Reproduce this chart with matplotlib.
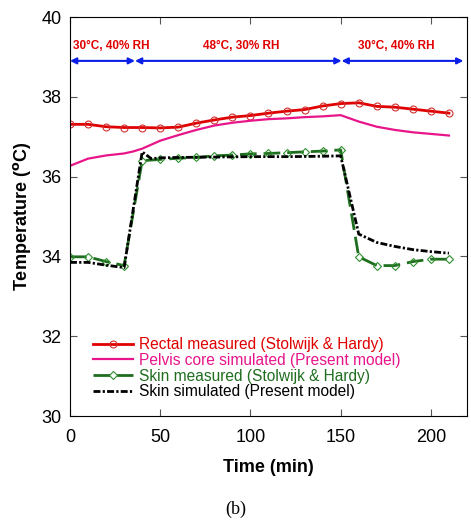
import numpy as np
import matplotlib.pyplot as plt

plt.rcParams['font.family'] = ['Liberation Sans', 'DejaVu Sans']

# measured points every 10 min
t_meas = [0, 10, 20, 30, 40, 50, 60, 70, 80, 90, 100, 110, 120, 130, 140, 150,
          160, 170, 180, 190, 200, 210]
rectal = [37.31, 37.31, 37.25, 37.23, 37.23, 37.22, 37.24, 37.34, 37.42, 37.49, 37.53,
          37.59, 37.64, 37.68, 37.77, 37.83, 37.85, 37.76, 37.74, 37.69, 37.64, 37.59]
skin_meas = [33.99, 33.99, 33.87, 33.77, 36.40, 36.43, 36.46, 36.48, 36.52, 36.54, 36.57,
             36.58, 36.60, 36.62, 36.64, 36.67, 33.99, 33.77, 33.77, 33.87, 33.93, 33.93]

# simulated curves
t_pelvis = [0, 10, 20, 30, 35, 40, 50, 60, 70, 80, 90, 100, 110, 120, 130, 140, 150,
            160, 170, 180, 190, 200, 210]
pelvis = [36.27, 36.45, 36.53, 36.58, 36.63, 36.70, 36.90, 37.04, 37.17, 37.28, 37.35,
          37.40, 37.44, 37.46, 37.49, 37.51, 37.54, 37.38, 37.25, 37.17, 37.11, 37.07, 37.03]
t_skin = [0, 10, 20, 30, 40, 45, 50, 60, 80, 100, 120, 140, 150, 160, 170, 180, 190, 200, 210]
skin_sim = [33.85, 33.85, 33.78, 33.72, 36.62, 36.45, 36.47, 36.48, 36.49, 36.50, 36.50,
            36.51, 36.52, 34.56, 34.35, 34.25, 34.17, 34.12, 34.08]

# exposure phases
phase_edges = [0, 36, 150.5, 218]
phase_labels = ['30°C, 40% RH', '48°C, 30% RH', '30°C, 40% RH']
phase_label_x = [1.5, 95, 181]

fig = plt.figure(figsize=(4.71, 5.28), dpi=100)
ax = fig.add_axes([0.1486, 0.2121, 0.8429, 0.7557])

ax.plot(t_meas, rectal, color='#e00000', lw=2, marker='o', ms=5, mfc='none',
        mec='#d03030', mew=0.8, label='Rectal measured (Stolwijk & Hardy)')
ax.plot(t_pelvis, pelvis, color='#e8158a', lw=1.6, label='Pelvis core simulated (Present model)')
ax.plot(t_meas, skin_meas, color='#1f6e1f', lw=2, ls=(0, (6, 2.5)), marker='D', ms=4,
        mfc='none', mec='#2f8f2f', mew=0.8, label='Skin measured (Stolwijk & Hardy)')
ax.plot(t_skin, skin_sim, color='black', lw=2, ls=(0, (2.5, 0.8, 0.8, 0.8)),
        label='Skin simulated (Present model)')

for i in range(3):
    ax.annotate('', xy=(phase_edges[i], 38.9), xytext=(phase_edges[i + 1], 38.9),
                arrowprops=dict(arrowstyle='<|-|>', color='#0a1ee8', lw=1.5,
                                mutation_scale=9, shrinkA=0, shrinkB=0))
ax.text(phase_label_x[0], 39.28, phase_labels[0], color='#e00000', fontsize=8.5,
        fontweight='bold', ha='left', va='center')
ax.text(phase_label_x[1], 39.28, phase_labels[1], color='#e00000', fontsize=8.5,
        fontweight='bold', ha='center', va='center')
ax.text(phase_label_x[2], 39.28, phase_labels[2], color='#e00000', fontsize=8.5,
        fontweight='bold', ha='center', va='center')

ax.set_xlim(0, 220)
ax.set_ylim(30, 40)
ax.set_xticks([0, 50, 100, 150, 200])
ax.set_yticks([30, 32, 34, 36, 38, 40])
ax.tick_params(direction='in', top=True, right=True, labelsize=13, length=5, width=0.8,
               color='#555555', pad=6)
ax.tick_params(axis='x', pad=9)
ax.set_xlabel('Time (min)', fontsize=13, fontweight='bold', labelpad=10)
ax.set_ylabel(r'Temperature ($^{\mathbf{o}}$C)', fontsize=13, fontweight='bold', labelpad=6)

leg = ax.legend(loc='upper left', bbox_to_anchor=(0.03, 0.225), frameon=False, fontsize=11.2,
                handlelength=2.6, handletextpad=0.4, labelspacing=0.05, numpoints=1,
                labelcolor='linecolor', borderpad=0.2)

fig.text(0.5, 0.035, '(b)', family='Liberation Serif', fontsize=13, ha='center', va='center')

fig.savefig('out.png', dpi=100)
